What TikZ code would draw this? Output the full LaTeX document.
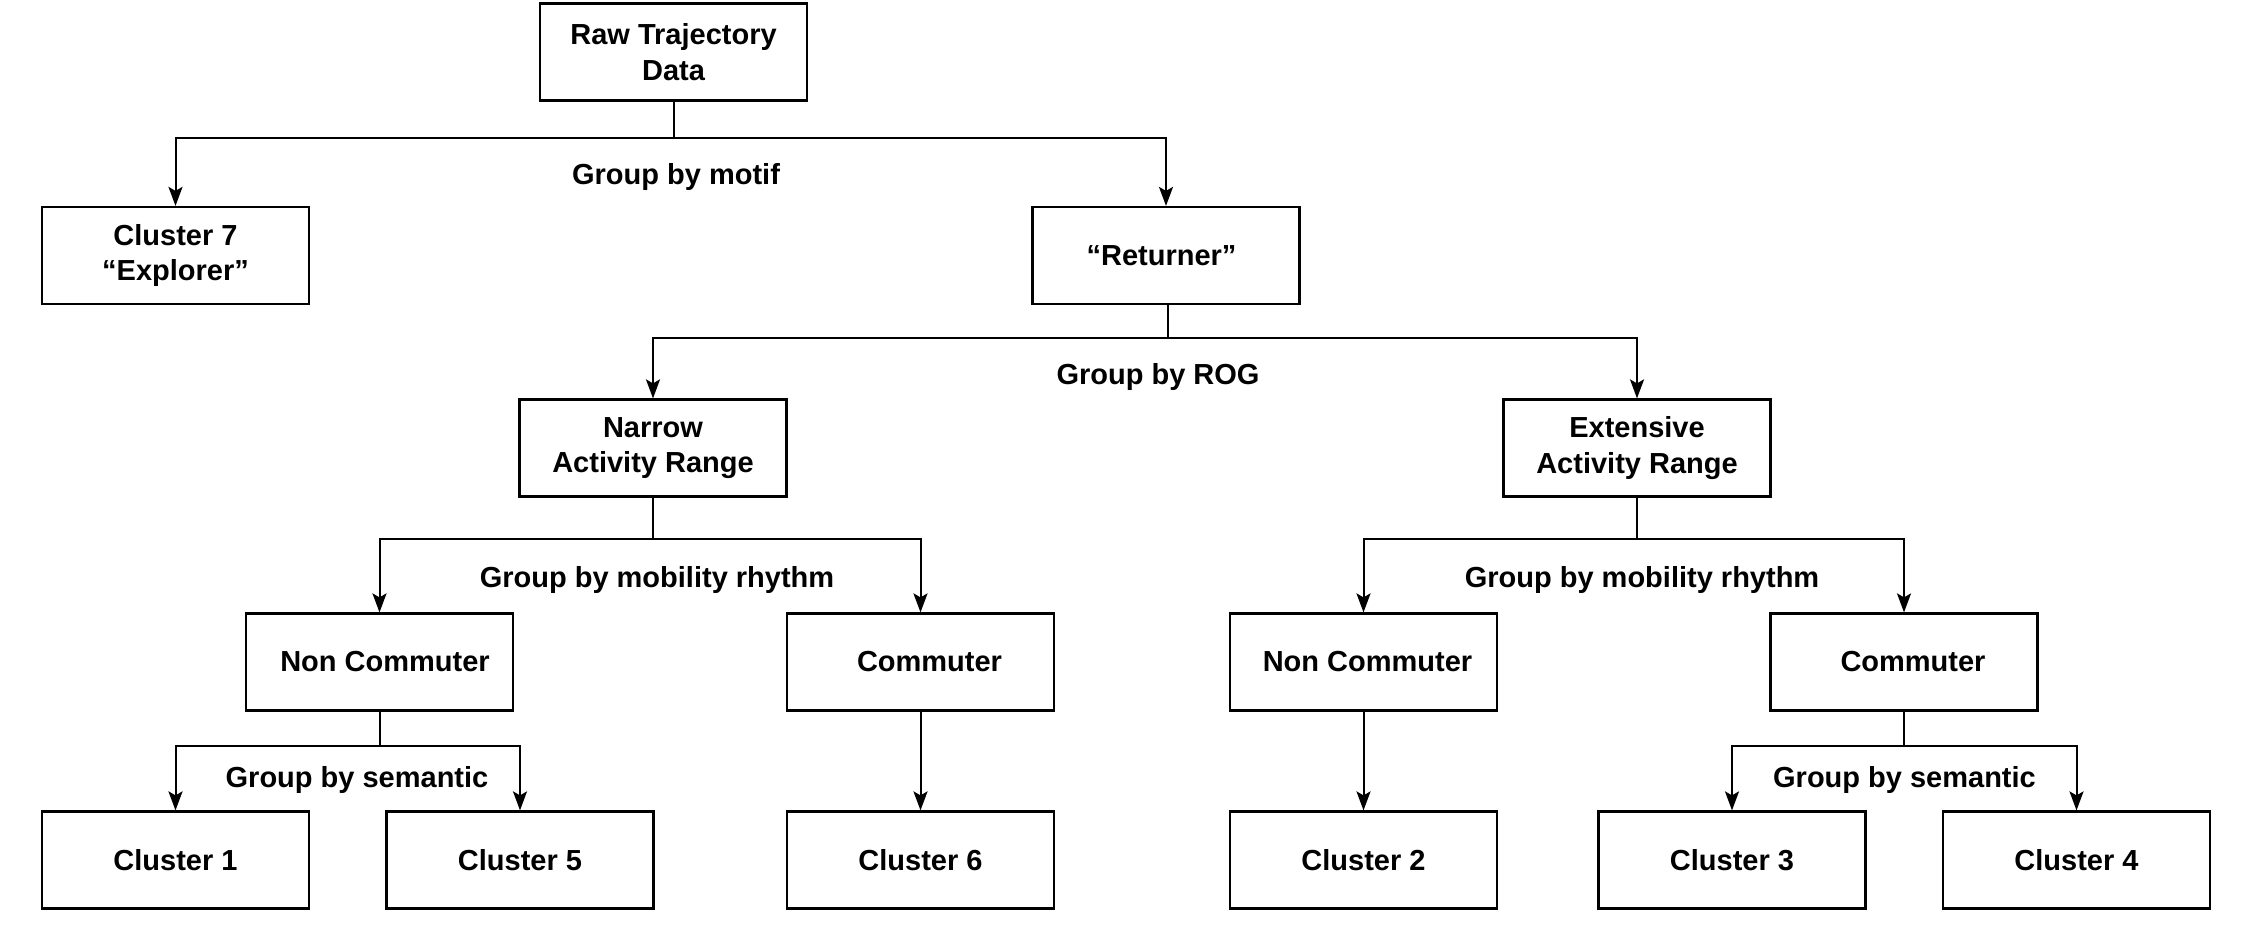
\documentclass[tikz,border=0pt]{standalone}
\usepackage{fontspec}
\setmainfont{Liberation Sans}
\usetikzlibrary{arrows.meta}
\tikzset{
  box/.style={draw=black, line width=2.2pt, rectangle, minimum width=267pt, minimum height=97pt, inner sep=0pt, align=center, font=\bfseries\fontsize{29pt}{35.5pt}\selectfont},
  lbl/.style={inner sep=0pt, font=\bfseries\fontsize{29pt}{35.5pt}\selectfont},
  conn/.style={draw=black, line width=2pt},
  arr/.style={conn, -{Stealth[length=19pt, width=14pt, inset=4pt]}}
}
\begin{document}
\begin{tikzpicture}[x=1pt, y=-1pt]
\useasboundingbox (0,0) rectangle (2243,928);
% nodes
\node[box] (raw) at (673.5,52) {Raw Trajectory\\Data};
\node[box] (c7) at (175.5,255.5) {Cluster 7\\“Explorer”};
\node[box] (ret) at (1166,255.5) {\hspace{-9pt}“Returner”};
\node[box] (narrow) at (653,448) {Narrow\\Activity Range};
\node[box] (ext) at (1637,448) {Extensive\\Activity Range};
\node[box] (nc1) at (379.5,662) {\hspace{11pt}Non Commuter};
\node[box] (cm1) at (920.5,662) {\hspace{18pt}Commuter};
\node[box] (nc2) at (1363.5,662) {\hspace{8pt}Non Commuter};
\node[box] (cm2) at (1904,662) {\hspace{18pt}Commuter};
\node[box] (cl1) at (175.5,860) {Cluster 1};
\node[box] (cl5) at (520,860) {Cluster 5};
\node[box] (cl6) at (920.5,860) {Cluster 6};
\node[box] (cl2) at (1363.5,860) {Cluster 2};
\node[box] (cl3) at (1732,860) {Cluster 3};
\node[box] (cl4) at (2076.5,860) {Cluster 4};
% labels
\node[lbl] (lmotif) at (676,177) {Group by motif};
\node[lbl] (lrog) at (1158,377) {Group by ROG};
\node[lbl] (lrh1) at (657,580) {Group by mobility rhythm};
\node[lbl] (lrh2) at (1642,580) {Group by mobility rhythm};
\node[lbl] (lsem1) at (357,780) {Group by semantic};
\node[lbl] (lsem2) at (1904.5,780) {Group by semantic};
% junctions
\coordinate (j1) at (673.5,138);
\coordinate (j2) at (1168,338);
\coordinate (j3) at (653,539);
\coordinate (j4) at (1637,539);
\coordinate (j5) at (379.5,746);
\coordinate (j6) at (1904,746);
% connectors
\draw[conn] (raw.south) -- (j1);
\draw[arr] (j1) -| (c7.north);
\draw[arr] (j1) -| (ret.north);
\draw[conn] (ret.south -| j2) -- (j2);
\draw[arr] (j2) -| (narrow.north);
\draw[arr] (j2) -| (ext.north);
\draw[conn] (narrow.south) -- (j3);
\draw[arr] (j3) -| (nc1.north);
\draw[arr] (j3) -| (cm1.north);
\draw[conn] (ext.south) -- (j4);
\draw[arr] (j4) -| (nc2.north);
\draw[arr] (j4) -| (cm2.north);
\draw[conn] (nc1.south) -- (j5);
\draw[arr] (j5) -| (cl1.north);
\draw[arr] (j5) -| (cl5.north);
\draw[arr] (cm1.south) -- (cl6.north);
\draw[arr] (nc2.south) -- (cl2.north);
\draw[conn] (cm2.south) -- (j6);
\draw[arr] (j6) -| (cl3.north);
\draw[arr] (j6) -| (cl4.north);
\end{tikzpicture}
\end{document}
